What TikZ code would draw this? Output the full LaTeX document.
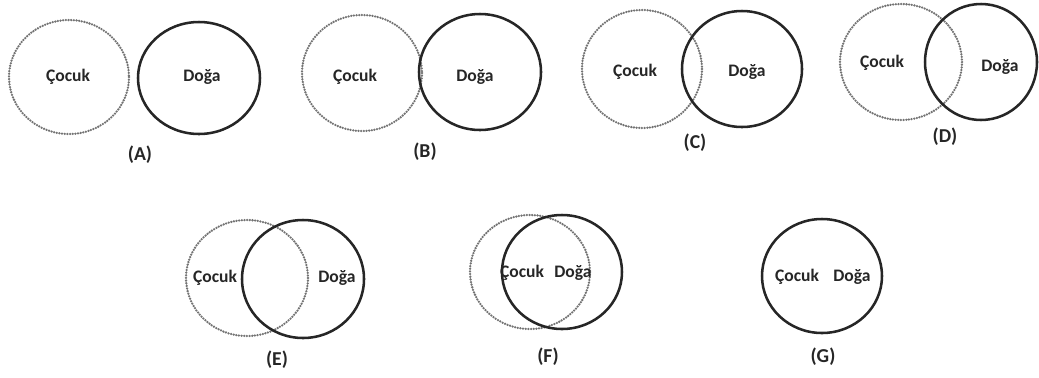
\documentclass[tikz,border=0pt]{standalone}
\usepackage{fontspec}
\setmainfont{Carlito}
\usetikzlibrary{positioning}

\begin{document}
\begin{tikzpicture}[x=0.025cm,y=-0.025cm,
    dotring/.style={draw=black!55,line width=1.8pt,line cap=round,dash pattern=on 0pt off 1.9pt},
    solidring/.style={draw=black!85,line width=1.8pt},
    word/.style={font=\bfseries\fontsize{12.5}{14}\selectfont,text=black!85,inner sep=1pt},
    tag/.style={font=\bfseries\fontsize{14}{16}\selectfont,text=black!85}]
   \useasboundingbox (0,0) rectangle (1039,377);

   % A
   \draw[dotring]   (69,77)  ellipse [x radius=60,y radius=57];
   \draw[solidring] (199,78) ellipse [x radius=61,y radius=56];
   \node[word] (a1) at (68,77)  {Çocuk};
   \node[word] (a2) at (202,77) {Doğa};
   \node[tag]  (A)  at (140,155) {(A)};

   % B
   \draw[dotring]   (362,73) ellipse [x radius=60,y radius=58];
   \draw[solidring] (480,72) ellipse [x radius=61,y radius=58];
   \node[word] (b1) at (355,77) {Çocuk};
   \node[word] (b2) at (475,77) {Doğa};
   \node[tag]  (B)  at (425,152) {(B)};

   % C
   \draw[dotring]   (642,69) ellipse [x radius=60,y radius=59];
   \draw[solidring] (742,69) ellipse [x radius=60,y radius=58];
   \node[word] (c1) at (635,72) {Çocuk};
   \node[word] (c2) at (747,72) {Doğa};
   \node[tag]  (C)  at (695,143) {(C)};

   % D
   \draw[dotring]   (901,62) ellipse [x radius=61,y radius=58];
   \draw[solidring] (981,62) ellipse [x radius=56,y radius=58];
   \node[word] (d1) at (882,63)  {Çocuk};
   \node[word] (d2) at (1000,67) {Doğa};
   \node[tag]  (D)  at (945,137) {(D)};

   % E
   \draw[dotring]   (247,278) ellipse [x radius=61,y radius=58];
   \draw[solidring] (303,279) ellipse [x radius=61,y radius=59];
   \node[word] (e1) at (215,278) {Çocuk};
   \node[word] (e2) at (337,278) {Doğa};
   \node[tag]  (E)  at (277,360) {(E)};

   % F
   \draw[dotring]   (530,272) ellipse [x radius=60,y radius=57];
   \draw[solidring] (562,272) ellipse [x radius=60,y radius=57];
   \node[word] (f1) at (522,273) {Çocuk};
   \node[word] (f2) at (573,273) {Doğa};
   \node[tag]  (F)  at (548,357) {(F)};

   % G
   \draw[solidring] (822,276) ellipse [x radius=60,y radius=57];
   \node[word] (g1) at (797,277) {Çocuk};
   \node[word] (g2) at (852,277) {Doğa};
   \node[tag]  (G)  at (823,357) {(G)};
\end{tikzpicture}
\end{document}
